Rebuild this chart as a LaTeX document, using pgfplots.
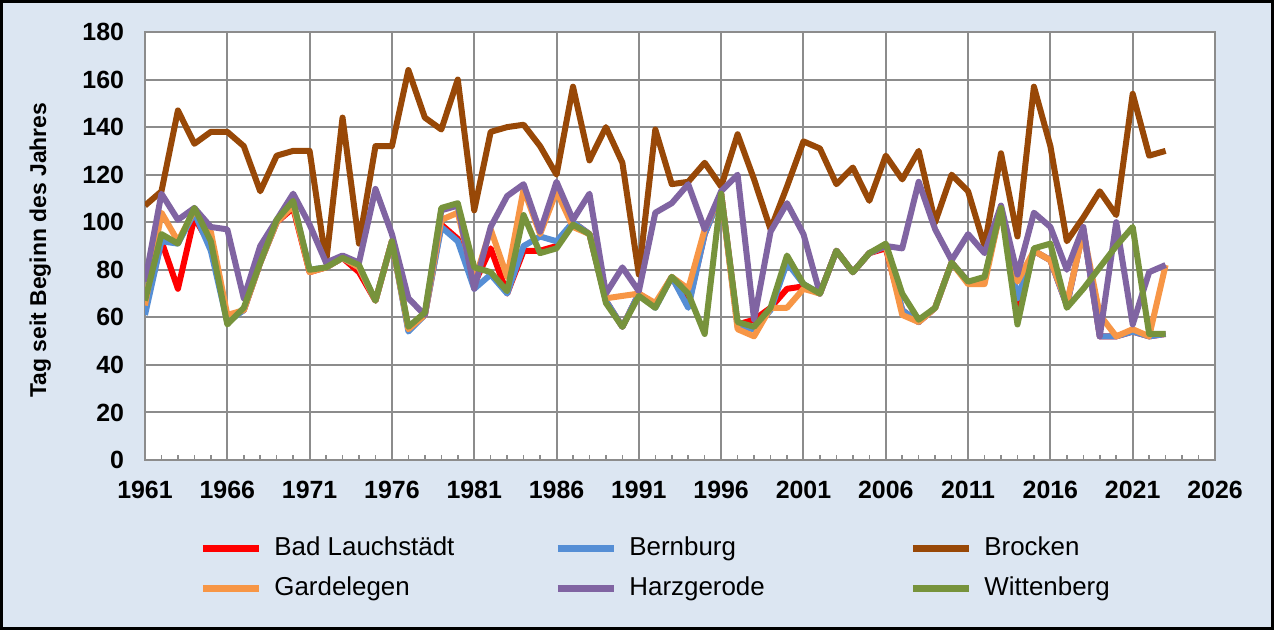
\documentclass[border=0pt]{standalone}
\usepackage{pgfplots}
\pgfplotsset{compat=1.18}
\usepackage{pgfplotstable}
\usepackage{fontspec}
\setmainfont{Liberation Sans}

\definecolor{bgblue}{HTML}{DCE6F2}
\definecolor{gridgray}{HTML}{8C8C8C}
\definecolor{cLauch}{HTML}{FF0000}
\definecolor{cBern}{HTML}{558ED5}
\definecolor{cBrocken}{HTML}{984807}
\definecolor{cGarde}{HTML}{F79646}
\definecolor{cHarz}{HTML}{8064A2}
\definecolor{cWitt}{HTML}{77933C}

% Tag seit Beginn des Jahres, 1961-2023
\pgfplotstableread{
year lauch bern brocken garde harz witt
1961 63 61 107 65 75 67
1962 92 92 113 104 112 95
1963 72 91 147 92 101 91
1964 102 104 133 105 106 106
1965 90 88 138 96 98 92
1966 59 58 138 61 97 57
1967 63 63 132 63 68 64
1968 83 83 113 83 90 83
1969 100 100 128 100 101 101
1970 106 108 130 107 112 109
1971 79 80 130 79 99 80
1972 81 81 83 81 83 81
1973 85 85 144 85 86 85
1974 79 81 91 81 83 82
1975 67 67 132 67 114 67
1976 92 92 132 92 95 92
1977 55 54 164 55 68 56
1978 61 61 144 61 61 62
1979 99 98 139 101 105 106
1980 93 92 160 104 107 108
1981 74 72 105 75 72 81
1982 89 78 138 97 98 79
1983 70 70 140 77 111 71
1984 88 90 141 114 116 103
1985 88 94 132 95 96 87
1986 90 92 120 113 117 89
1987 100 100 157 98 101 99
1988 95 95 126 95 112 95
1989 67 67 140 68 70 66
1990 56 56 125 69 81 56
1991 70 70 78 70 71 69
1992 65 64 139 66 104 64
1993 77 77 116 77 108 77
1994 65 64 117 72 116 70
1995 95 95 125 97 97 53
1996 112 112 115 112 113 112
1997 57 56 137 55 120 58
1998 59 55 118 52 59 56
1999 64 63 97 64 96 64
2000 72 83 115 64 108 86
2001 73 74 134 72 95 74
2002 70 70 131 70 70 70
2003 88 88 116 88 88 88
2004 79 79 123 79 79 79
2005 87 87 109 87 87 87
2006 89 90 128 90 90 91
2007 63 63 118 61 89 70
2008 58 58 130 58 117 59
2009 64 64 100 64 97 64
2010 83 83 120 83 84 83
2011 75 75 113 74 95 75
2012 76 76 90 74 87 77
2013 106 106 129 106 107 106
2014 65 68 94 75 78 57
2015 88 88 157 88 104 89
2016 84 84 132 84 98 91
2017 65 65 92 66 80 64
2018 97 97 102 96 98 72
2019 52 52 113 61 52 81
2020 52 52 103 52 100 90
2021 54 54 154 55 57 98
2022 52 52 128 52 79 53
2023 53 53 130 82 82 53
}\data

\begin{document}
\begin{tikzpicture}
\fill[bgblue] (0,0) rectangle (637bp,315bp);
\draw[black, line width=1.5bp] (0.75bp,0.75bp) rectangle (636.25bp,314.25bp);
\begin{axis}[
    at={(72.5bp,85bp)}, anchor=south west,
    width=535bp, height=214bp, scale only axis,
    xmin=1961, xmax=2026, ymin=0, ymax=180,
    xtick={1961,1966,...,2026}, ytick={0,20,...,180},
    minor x tick num=4,
    grid=major,
    major grid style={gridgray, line width=1bp},
    axis line style={gridgray, line width=1bp},
    axis background/.style={fill=white},
    tick align=inside, xtick pos=bottom, ytick pos=left,
    major tick length=0pt, minor tick length=2.5bp,
    tick style={gridgray, line width=0.75bp},
    /pgf/number format/assume math mode=true,
    /pgf/number format/1000 sep={},
    tick label style={font=\fontsize{12.5}{14}\selectfont\bfseries},
    xticklabel style={yshift=-7bp},
    yticklabel style={xshift=-7bp},
    ylabel={Tag seit Beginn des Jahres},
    ylabel style={font=\fontsize{11.5}{13}\selectfont\bfseries,
        at={(axis description cs:-0.098,0.49)}, anchor=center},
    no markers,
    every axis plot/.append style={line width=3bp, line join=round},
    legend columns=3,
    legend cell align=left,
    legend image code/.code={\draw[#1, line width=3.5bp] (0bp,0bp) -- (28bp,0bp);},
    legend style={at={(axis description cs:0.0505,-0.177)}, anchor=north west,
        draw=none, fill=none, inner sep=0pt,
        font=\fontsize{13}{15}\selectfont,
        nodes={inner xsep=0pt, inner ysep=0pt, text height=9.5bp, text depth=2.7bp},
        row sep=7.8bp,
        /tikz/every odd column/.append style={column sep=6bp}},
]
\addplot[cLauch] table[x=year, y=lauch]{\data};
\addlegendentry{\makebox[140bp][l]{Bad Lauchstädt}}
\addplot[cBern] table[x=year, y=bern]{\data};
\addlegendentry{\makebox[140bp][l]{Bernburg}}
\addplot[cBrocken] table[x=year, y=brocken]{\data};
\addlegendentry{Brocken}
\addplot[cGarde] table[x=year, y=garde]{\data};
\addlegendentry{\makebox[140bp][l]{Gardelegen}}
\addplot[cHarz] table[x=year, y=harz]{\data};
\addlegendentry{\makebox[140bp][l]{Harzgerode}}
\addplot[cWitt] table[x=year, y=witt]{\data};
\addlegendentry{Wittenberg}
\end{axis}
\end{tikzpicture}
\end{document}
